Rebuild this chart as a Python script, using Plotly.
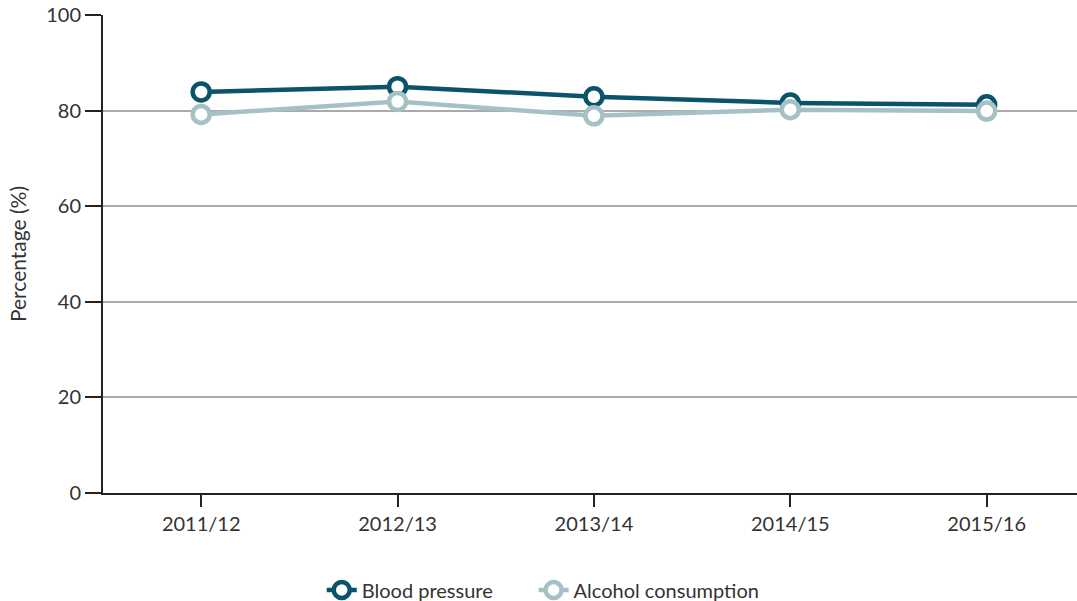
import plotly.graph_objects as go

years = ["2011/12", "2012/13", "2013/14", "2014/15", "2015/16"]
blood_pressure = [83.9, 85.0, 82.9, 81.6, 81.2]
alcohol = [79.2, 81.9, 78.9, 80.2, 79.9]
y_ticks = [0, 20, 40, 60, 80, 100]

BP_COLOR = "#0b526b"
ALC_COLOR = "#a5c1c6"
PAD = "\u00a0" * 7

fig = go.Figure()
fig.add_trace(go.Scatter(
    x=years, y=blood_pressure, name="Blood pressure" + PAD, mode="lines+markers",
    line=dict(color=BP_COLOR, width=4.5),
    marker=dict(symbol="circle", size=17, color="white", line=dict(color=BP_COLOR, width=4.5)),
))
fig.add_trace(go.Scatter(
    x=years, y=alcohol, name="Alcohol consumption", mode="lines+markers",
    line=dict(color=ALC_COLOR, width=4.5),
    marker=dict(symbol="circle", size=17, color="white", line=dict(color=ALC_COLOR, width=4.5)),
))

fig.update_layout(
    width=1077, height=601,
    margin=dict(l=103, r=0, t=15, b=108, autoexpand=False),
    plot_bgcolor="white", paper_bgcolor="white",
    font=dict(family="Lato, 'Open Sans', sans-serif", size=20, color="#333333"),
    showlegend=True,
    legend=dict(orientation="h", x=0.452, xanchor="center", y=-0.203, yanchor="middle",
                font=dict(size=20, color="#333333")),
    xaxis=dict(
        type="category", range=[-0.5, 4.46],
        showline=True, linecolor="#222222", linewidth=2,
        ticks="outside", ticklen=12, tickwidth=2, tickcolor="#222222",
        showgrid=False, zeroline=False,
        tickfont=dict(size=20, color="#333333"),
    ),
    yaxis=dict(
        range=[0, 100], tickvals=y_ticks,
        showline=True, linecolor="#222222", linewidth=2,
        ticks="outside", ticklen=16, tickwidth=2, tickcolor="#222222",
        showgrid=True, gridcolor="#aaaaaa", gridwidth=2, zeroline=False,
        title=dict(text="Percentage (%)", font=dict(size=21, color="#333333"), standoff=14),
        tickfont=dict(size=20, color="#333333"),
    ),
)

fig.write_html("out.html", config={"displayModeBar": False},
               post_script="document.body.style.margin='0';document.body.style.overflow='hidden';")
